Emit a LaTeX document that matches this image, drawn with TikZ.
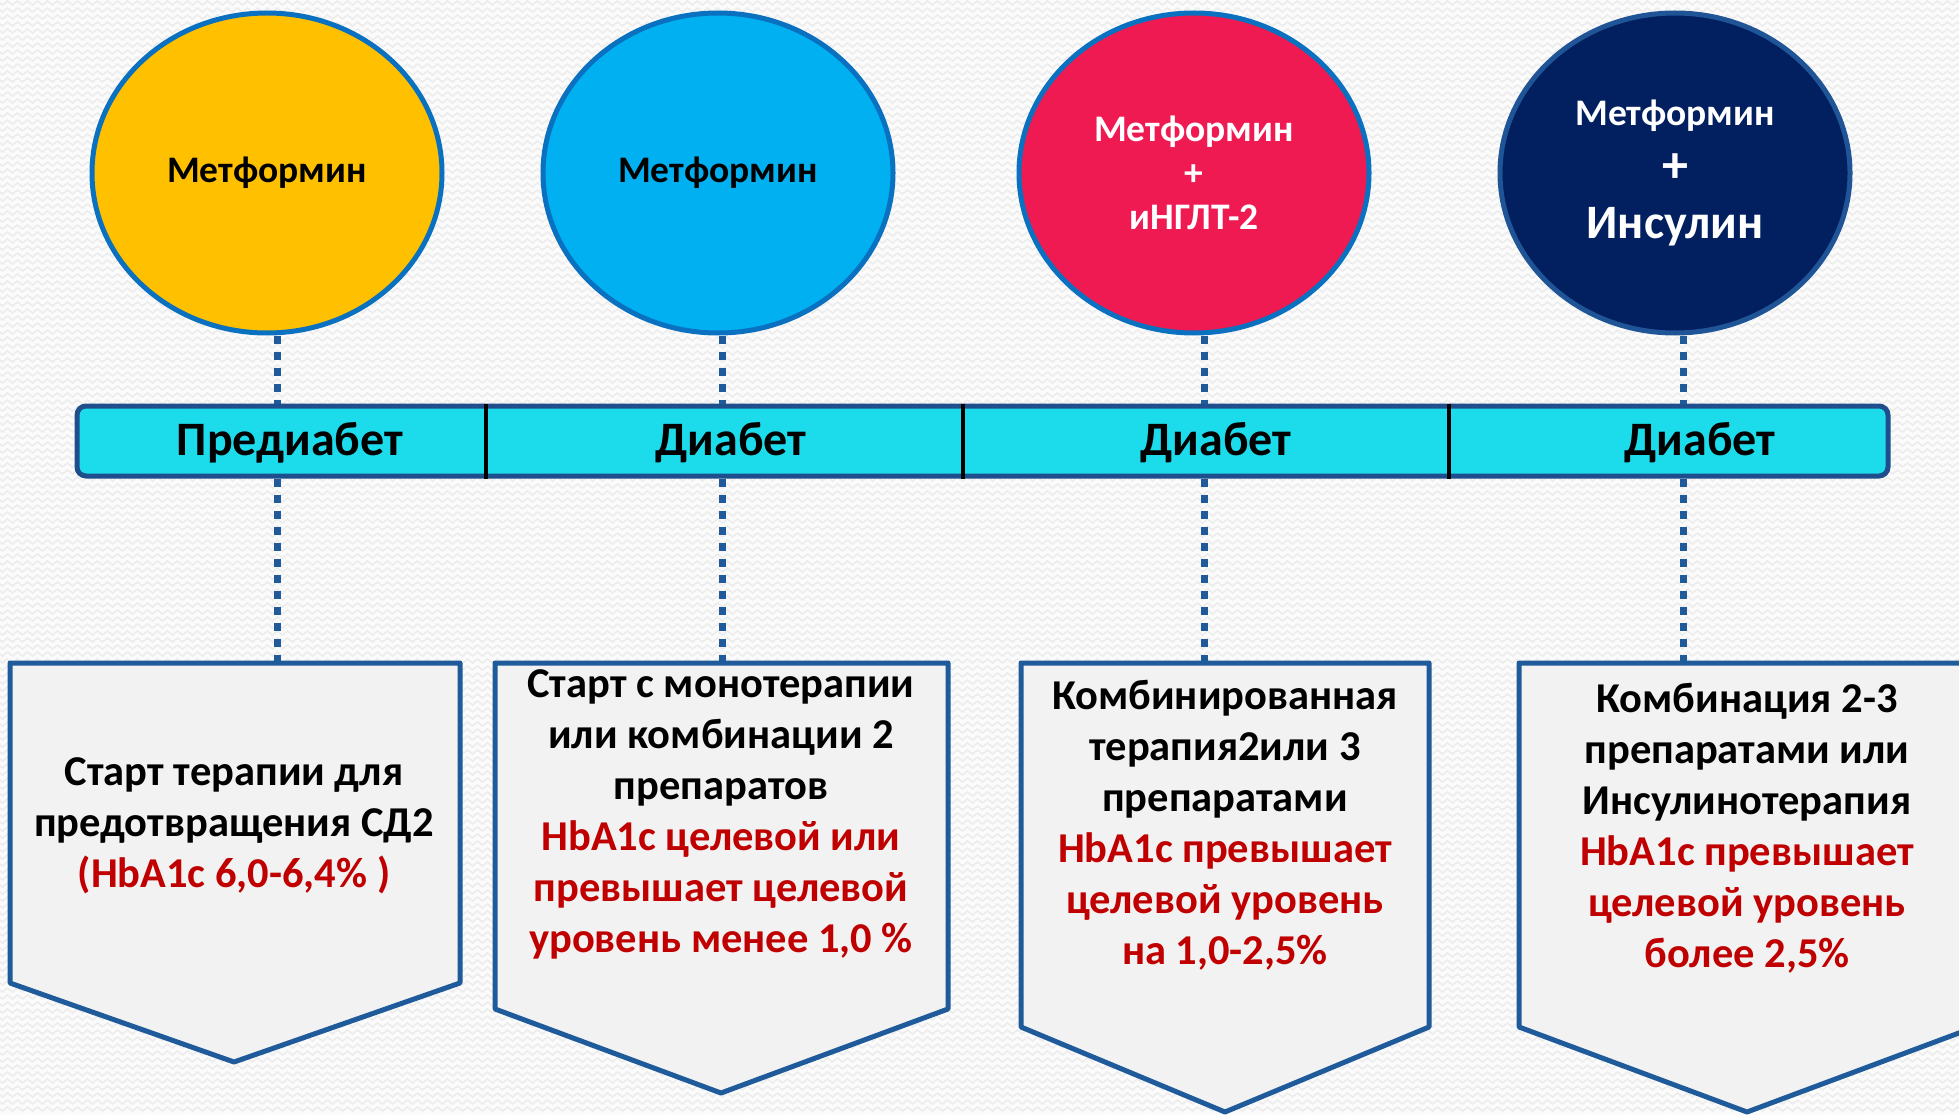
\documentclass[tikz,border=0pt]{standalone}
\usepackage{fontspec}
\setmainfont{Carlito}
\usetikzlibrary{shapes.geometric,decorations.pathmorphing}
\definecolor{bgc}{HTML}{FBFBFB}
\definecolor{bgzz}{HTML}{ECECEC}
\definecolor{cyel}{HTML}{FFC000}
\definecolor{cblue}{HTML}{00B0F0}
\definecolor{cred}{HTML}{F01A52}
\definecolor{cnavy}{HTML}{022060}
\definecolor{ebord}{HTML}{0A70C0}
\definecolor{nbord}{HTML}{1F5496}
\definecolor{barf}{HTML}{1CDCEB}
\definecolor{barb}{HTML}{1F4E8C}
\definecolor{dotc}{HTML}{1F5A9A}
\definecolor{boxb}{HTML}{1F5A9A}
\definecolor{boxf}{HTML}{F2F2F2}
\definecolor{hbred}{HTML}{C00000}
\begin{document}
\begin{tikzpicture}[x=1pt,y=-1pt,
  circ/.style={ellipse, draw=ebord, line width=5pt, minimum width=350pt, minimum height=320pt, inner sep=0pt, align=center, font=\bfseries\fontsize{37.5}{44}\selectfont},
  conn/.style={draw=dotc, line width=7pt, dash pattern=on 8pt off 8pt},
  pent/.style={draw=boxb, fill=boxf, line width=5pt, line join=round},
  boxtext/.style={align=center, inner sep=0pt, font=\bfseries\fontsize{42.5}{51}\selectfont},
  barlabel/.style={inner sep=0pt, font=\bfseries\fontsize{48}{50}\selectfont},
  divider/.style={draw=black, line width=4.5pt},
  zz/.style={draw=bgzz, line width=1.6pt, decorate, decoration={zigzag, segment length=10pt, amplitude=2pt}}]
\useasboundingbox (0,0) rectangle (1959,1115);
\clip (0,0) rectangle (1959,1115);
\fill[bgc] (0,0) rectangle (1959,1115);
\foreach \yy in {3,10,...,1115} \draw[zz] (-5,\yy) -- (1965,\yy);

% circles
\node[circ, fill=cyel] (c1) at (267,173) {Метформин};
\node[circ, fill=cblue] (c2) at (718,173) {Метформин};
\node[circ, fill=cred, text=white] (c3) at (1194,173) {Метформин\\+\\иНГЛТ-2};
\node[circ, fill=cnavy, draw=nbord, text=white] (c4) at (1675,173)
  {Метформин\\[13pt]{\fontsize{52}{50}\selectfont +}\\[12pt]{\fontsize{48}{50}\selectfont Инсулин}};

% bar
\node[draw=barb, fill=barf, line width=5pt, rounded corners=9pt, minimum width=1811pt, minimum height=70pt, inner sep=0pt] (bar) at (982.5,441) {};
\coordinate (v1) at (486,441);
\coordinate (v2) at (963,441);
\coordinate (v3) at (1449,441);
\draw[divider] (v1 |- bar.north) -- (v1 |- bar.south);
\draw[divider] (v2 |- bar.north) -- (v2 |- bar.south);
\draw[divider] (v3 |- bar.north) -- (v3 |- bar.south);
\node[barlabel] (l1) at (290,443) {Предиабет};
\node[barlabel] (l2) at (731,443) {Диабет};
\node[barlabel] (l3) at (1216,443) {Диабет};
\node[barlabel] (l4) at (1700,443) {Диабет};

% boxes
\draw[pent] (10,663) -- (460,663) -- (460,983) -- (234,1062) -- (10,983) -- cycle;
\draw[pent] (495,663) -- (948,663) -- (948,1009) -- (721,1093) -- (495,1009) -- cycle;
\draw[pent] (1021,663) -- (1429,663) -- (1429,1027) -- (1225,1112) -- (1021,1027) -- cycle;
\draw[pent] (1519,663) -- (1975,663) -- (1975,1027) -- (1747,1112) -- (1519,1027) -- cycle;
\coordinate (t1) at (277,663);
\coordinate (t2) at (722,663);
\coordinate (t3) at (1204,663);
\coordinate (t4) at (1683,663);

\node[boxtext] (b1) at (234,826) {Старт терапии для\\предотвращения СД2\\\textcolor{hbred}{(HbA1c 6,0-6,4\% )}};
\node[boxtext] (b2) at (721,814) {Старт с монотерапии\\или комбинации 2\\препаратов\\\textcolor{hbred}{HbA1c целевой или}\\\textcolor{hbred}{превышает целевой}\\\textcolor{hbred}{уровень менее 1,0 \%}};
\node[boxtext] (b3) at (1225,825) {Комбинированная\\терапия2или 3\\препаратами\\\textcolor{hbred}{HbA1c превышает}\\\textcolor{hbred}{целевой уровень}\\\textcolor{hbred}{на 1,0-2,5\%}};
\node[boxtext] (b4) at (1747,828) {Комбинация 2-3\\препаратами или\\Инсулинотерапия\\\textcolor{hbred}{HbA1c превышает}\\\textcolor{hbred}{целевой уровень}\\\textcolor{hbred}{более 2,5\%}};

% connectors
\draw[conn] (t1 |- c1.south) -- (t1 |- bar.north);
\draw[conn] (t1 |- bar.south) -- (t1);
\draw[conn] (t2 |- c2.south) -- (t2 |- bar.north);
\draw[conn] (t2 |- bar.south) -- (t2);
\draw[conn] (t3 |- c3.south) -- (t3 |- bar.north);
\draw[conn] (t3 |- bar.south) -- (t3);
\draw[conn] (t4 |- c4.south) -- (t4 |- bar.north);
\draw[conn] (t4 |- bar.south) -- (t4);
\end{tikzpicture}
\end{document}
